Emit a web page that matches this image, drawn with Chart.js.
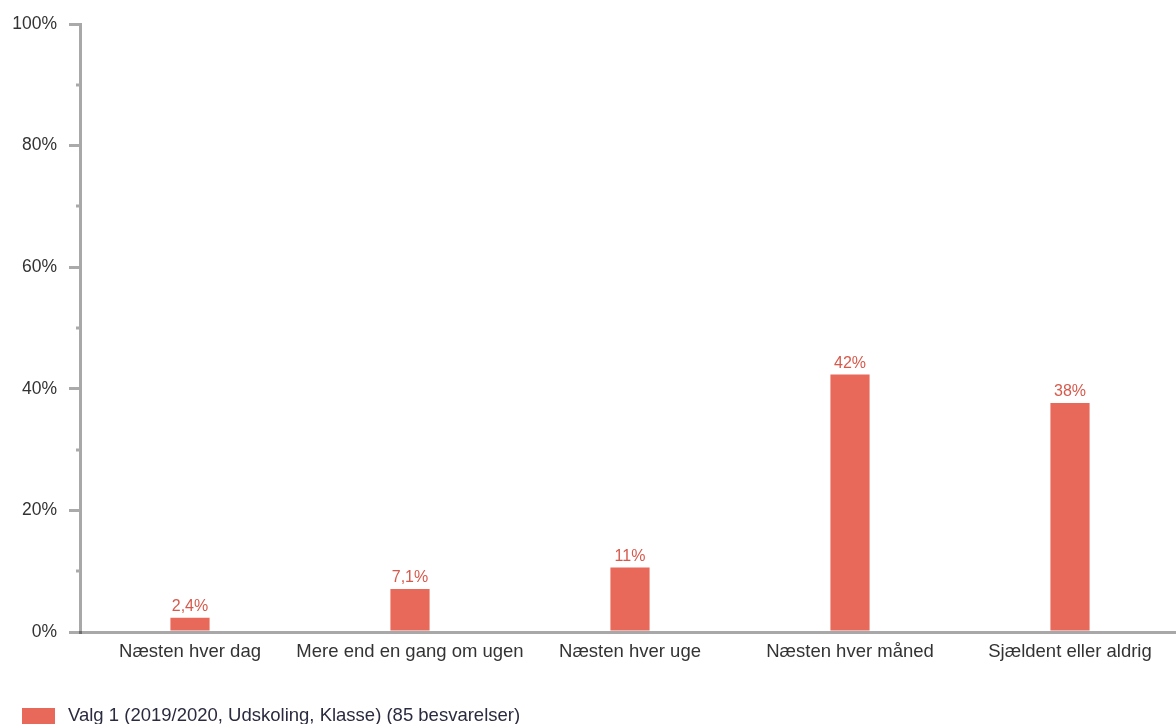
<!DOCTYPE html>
<html>
<head>
<meta charset="utf-8">
<script src="https://cdn.jsdelivr.net/npm/chart.js@4"></script>
<style>
  html, body { margin: 0; padding: 0; background: #fff; overflow: hidden; }
</style>
</head>
<body>
<canvas id="chart" width="1180" height="742"></canvas>
<script>
const kategorier = [
  "Næsten hver dag",
  "Mere end en gang om ugen",
  "Næsten hver uge",
  "Næsten hver måned",
  "Sjældent eller aldrig"
];
const andele = [2.35, 7.06, 10.59, 42.35, 37.65];
const serieNavn = "Valg 1 (2019/2020, Udskoling, Klasse) (85 besvarelser)";
const yTicks = [0, 20, 40, 60, 80, 100];
const yMinorTicks = [10, 30, 50, 70, 90];

const barFarve = "#E8685A";
const labelFarve = "#D65A4C";
const akseFarve = "rgba(0,0,0,0.34)";
const fontFamily = "'Liberation Sans', Arial, sans-serif";

function formatProcent(v) {
  if (v < 10) return v.toFixed(1).replace(".", ",") + "%";
  return Math.round(v) + "%";
}

// små mellem-ticks på y-aksen
const minorTicksPlugin = {
  id: "minorTicks",
  afterDraw(chart) {
    const y = chart.scales.y;
    const ctx = chart.ctx;
    ctx.save();
    ctx.strokeStyle = "#aaa";
    ctx.lineWidth = 3;
    yMinorTicks.forEach(v => {
      const py = Math.round(y.getPixelForValue(v));
      ctx.beginPath();
      ctx.moveTo(y.right - 4, py);
      ctx.lineTo(y.right, py);
      ctx.stroke();
    });
    ctx.restore();
  }
};

// værdier over søjlerne
const barLabelsPlugin = {
  id: "barLabels",
  afterDatasetsDraw(chart) {
    const ctx = chart.ctx;
    const meta = chart.getDatasetMeta(0);
    ctx.save();
    ctx.fillStyle = labelFarve;
    ctx.font = "16px " + fontFamily;
    ctx.textAlign = "center";
    ctx.textBaseline = "alphabetic";
    meta.data.forEach((bar, i) => {
      ctx.fillText(formatProcent(andele[i]), bar.x, bar.y - 7);
    });
    ctx.restore();
  }
};

// legende tegnet i bunden
const legendPlugin = {
  id: "bundLegende",
  afterDraw(chart) {
    const ctx = chart.ctx;
    const ds = chart.data.datasets[0];
    ctx.save();
    ctx.fillStyle = ds.backgroundColor;
    ctx.fillRect(22, 708, 33, 30);
    ctx.fillStyle = "#2b2b40";
    ctx.font = "18.5px " + fontFamily;
    ctx.textAlign = "left";
    ctx.textBaseline = "alphabetic";
    ctx.fillText(ds.label, 68, 721);
    ctx.restore();
  }
};

new Chart(document.getElementById("chart"), {
  type: "bar",
  data: {
    labels: kategorier,
    datasets: [
      {
        label: serieNavn,
        data: andele,
        backgroundColor: barFarve,
        borderWidth: 0,
        categoryPercentage: 1,
        barPercentage: 0.178
      }
    ]
  },
  options: {
    responsive: false,
    animation: false,
    layout: {
      padding: { top: 24, left: 12, right: 0, bottom: 0 }
    },
    plugins: {
      legend: { display: false },
      tooltip: { enabled: false }
    },
    scales: {
      x: {
        z: 1,
        offset: true,
        grid: { display: false, drawTicks: false },
        border: { display: true, color: akseFarve, width: 3 },
        ticks: {
          padding: 9,
          autoSkip: false,
          maxRotation: 0,
          minRotation: 0,
          color: "#333",
          font: { size: 18.5, family: fontFamily }
        },
        afterFit(scale) {
          scale.height = 110;
        }
      },
      y: {
        min: 0,
        max: 100,
        afterBuildTicks(scale) {
          scale.ticks = yTicks.map(v => ({ value: v }));
        },
        grid: {
          drawOnChartArea: false,
          drawTicks: true,
          tickLength: 11,
          color: "#aaa",
          lineWidth: 3
        },
        border: { display: true, color: akseFarve, width: 3 },
        ticks: {
          padding: 12,
          color: "#333",
          font: { size: 17.5, family: fontFamily },
          callback: v => v + "%"
        },
        afterFit(scale) {
          scale.width = 68;
        }
      }
    }
  },
  plugins: [minorTicksPlugin, barLabelsPlugin, legendPlugin]
});
</script>
</body>
</html>
